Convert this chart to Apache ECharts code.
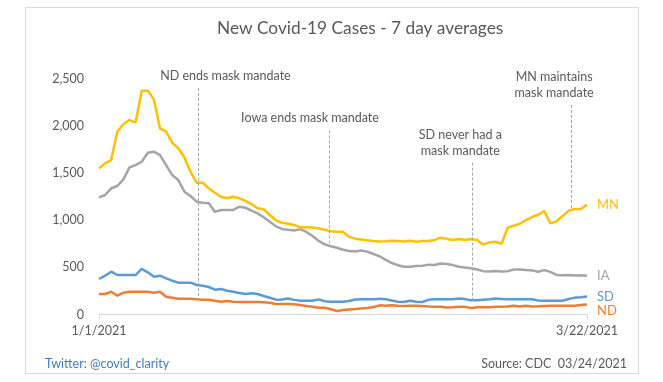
<!DOCTYPE html>
<html><head><meta charset="utf-8">
<script src="https://cdn.jsdelivr.net/npm/echarts@6/dist/echarts.min.js"></script>
<style>html,body{margin:0;padding:0;background:#fff}#c{width:663px;height:382px}</style>
</head><body><div id="c"></div>
<script>
// Day index 0 = 1/1/2021 ... 80 = 3/22/2021
const xTickLabels = ['1/1/2021', '3/22/2021'];
const yTicks = [0, 500, 1000, 1500, 2000, 2500];

const MN = [1549,1602,1637,1937,2018,2060,2032,2370,2370,2279,1972,1937,1820,1761,1666,1513,1397,1397,1338,1291,
1249,1232,1249,1232,1206,1171,1126,1117,1055,999,972,962,950,925,926,924,914,899,884,878,
878,824,805,797,787,781,776,778,782,779,774,783,772,780,780,790,815,804,790,801,
790,801,790,741,766,772,751,921,942,963,1002,1034,1058,1097,967,988,1044,1101,1119,1119,1164];
const IA = [1242,1267,1338,1362,1433,1560,1584,1619,1714,1725,1690,1584,1478,1425,1302,1256,1196,1185,1179,1090,
1108,1108,1108,1143,1132,1101,1073,1032,983,935,908,898,891,906,876,833,782,744,724,708,
688,675,669,680,666,642,619,580,547,524,507,508,515,519,530,527,542,537,525,508,
499,491,478,461,458,462,457,461,478,479,474,469,455,472,453,421,418,420,416,417,412];
const SD = [378,413,455,420,420,420,420,484,449,402,413,385,360,339,339,339,314,307,293,265,
272,254,243,230,219,226,219,198,180,159,162,171,157,148,148,148,162,142,138,138,
138,145,160,163,163,163,170,164,150,138,135,147,138,134,157,163,163,163,163,172,
165,152,152,158,163,171,166,163,163,163,163,163,151,148,148,148,148,166,181,185,193];
const ND = [219,219,243,201,233,243,243,243,243,233,243,190,180,169,169,169,163,159,159,148,
138,145,138,134,134,134,134,133,127,114,113,113,111,102,91,83,74,74,58,39,
50,56,60,66,72,81,99,96,100,94,92,94,94,92,86,85,84,76,80,85,
83,71,78,80,80,84,85,87,94,87,94,86,89,93,95,95,95,95,95,103,109];

const seriesNames = ['IA', 'SD', 'ND', 'MN'];
const seriesValues = { MN: MN, IA: IA, SD: SD, ND: ND };
const seriesColors = { MN: '#FFC000', IA: '#A5A5A5', SD: '#5B9BD5', ND: '#ED7D31' };

// annotations: text, day position, top value of leader, series it points to
const noteText = ['ND ends mask mandate', 'Iowa ends mask mandate', 'SD never had a\nmask mandate', 'MN maintains\nmask mandate'];
const noteDay = [16.3, 37.7, 61.2, 77.4];
const noteTop = [2400, 1950, 1610, 2220];
const noteSeries = ['ND', 'IA', 'SD', 'MN'];
const noteOffset = [[27, 0], [-19, 0], [-12, 0], [-17, 0]];

const FONT = 'Lato, "Open Sans", sans-serif';
const GREY = '#595959';

function valueAt(arr, d) {
  const i = Math.floor(d), f = d - i;
  if (i >= arr.length - 1) return arr[arr.length - 1];
  return arr[i] * (1 - f) + arr[i + 1] * f;
}

const series = seriesNames.map(function (name) {
  const s = {
    name: name,
    type: 'line',
    data: seriesValues[name].map(function (v, i) { return [i, v]; }),
    showSymbol: false,
    symbol: 'none',
    lineStyle: { color: seriesColors[name], width: 2.5 },
    itemStyle: { color: seriesColors[name] },
    animation: false,
    endLabel: {
      show: true, formatter: name, color: seriesColors[name],
      fontFamily: FONT, fontSize: 13, distance: 10,
      offset: name === 'ND' ? [0, 6] : [0, 0]
    }
  };
  const lines = [];
  noteSeries.forEach(function (ns, k) {
    if (ns !== name) return;
    lines.push([
      { coord: [noteDay[k], noteTop[k]], label: { offset: noteOffset[k] } },
      { coord: [noteDay[k], valueAt(seriesValues[name], noteDay[k])] }
    ]);
  });
  if (lines.length) {
    s.markLine = {
      silent: true, symbol: ['none', 'none'], animation: false,
      lineStyle: { color: '#A6A6A6', width: 1, type: [3, 2] },
      label: {
        show: true, position: 'start', formatter: function (p) {
          return noteText[noteSeries.indexOf(name)];
        },
        color: GREY, fontFamily: FONT, fontSize: 12.5, lineHeight: 16, distance: 4
      },
      data: lines
    };
  }
  return s;
});

const chart = echarts.init(document.getElementById('c'), null, { renderer: 'canvas' });
chart.setOption({
  backgroundColor: '#fff',
  animation: false,
  title: [
    { text: 'New Covid-19 Cases - 7 day averages', left: 212, top: 15,
      textStyle: { color: GREY, fontFamily: FONT, fontSize: 17.3, fontWeight: 'normal' } },
    { text: 'Twitter: @covid_clarity', left: 40, top: 352,
      textStyle: { color: '#3E7DC2', fontFamily: FONT, fontSize: 12.5, fontWeight: 'normal' } },
    { text: 'Source: CDC  03/24/2021', right: 31, top: 352,
      textStyle: { color: GREY, fontFamily: FONT, fontSize: 12.5, fontWeight: 'normal' } }
  ],
  graphic: [{
    type: 'rect', left: 23, top: 5,
    shape: { width: 613, height: 366 },
    style: { fill: 'none', stroke: '#D9D9D9', lineWidth: 1 }, silent: true
  }],
  grid: { left: 99, right: 76, top: 78.5, bottom: 67.3 },
  xAxis: {
    type: 'value', min: 0, max: 80, interval: 80,
    axisLine: { show: true, lineStyle: { color: '#D9D9D9' } },
    axisTick: { show: true, length: 5, lineStyle: { color: '#D9D9D9' } },
    splitLine: { show: false },
    axisLabel: {
      color: GREY, fontFamily: FONT, fontSize: 12.5, margin: 10,
      formatter: function (v) { return v === 0 ? xTickLabels[0] : xTickLabels[1]; }
    }
  },
  yAxis: {
    type: 'value', min: yTicks[0], max: yTicks[yTicks.length - 1], interval: 500,
    axisLine: { show: false }, axisTick: { show: false }, splitLine: { show: false },
    axisLabel: {
      color: GREY, fontFamily: FONT, fontSize: 12.5, margin: 15,
      formatter: function (v) { return v.toLocaleString('en-US'); }
    }
  },
  series: series
});
</script></body></html>
